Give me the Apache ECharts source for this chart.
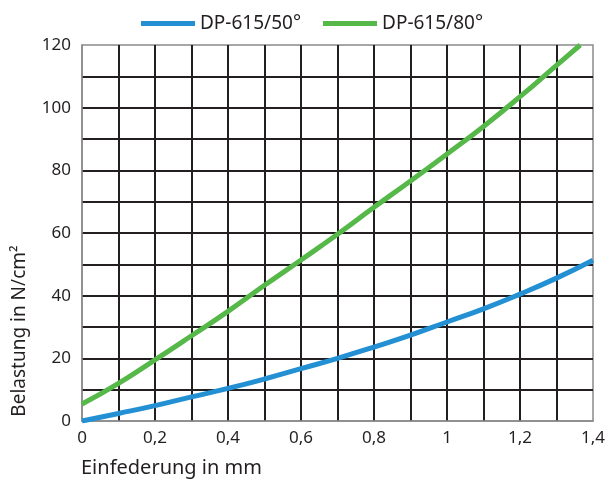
<!DOCTYPE html>
<html>
<head>
<meta charset="utf-8">
<script src="https://cdn.jsdelivr.net/npm/echarts@6/dist/echarts.min.js"></script>
<style>
  html, body { margin: 0; padding: 0; background: #fff; }
  #main { width: 609px; height: 487px; }
</style>
</head>
<body>
<div id="main"></div>
<script>
// values
const xBlue = [0, 0.1, 0.2, 0.3, 0.4, 0.5, 0.6, 0.7, 0.8, 0.9, 1.0, 1.1, 1.2, 1.3, 1.4];
const yBlue = [0, 2.4, 4.9, 7.7, 10.4, 13.4, 16.7, 20, 23.6, 27.4, 31.6, 35.8, 40.5, 45.6, 51.3];
const xGreen = [0, 0.1, 0.2, 0.3, 0.4, 0.5, 0.6, 0.7, 0.8, 0.9, 1.0, 1.1, 1.2, 1.3, 1.365];
const yGreen = [5.4, 12, 19.5, 27.2, 35, 43.3, 51.4, 59.6, 68.2, 76.6, 85.2, 94, 103.5, 113.5, 120];
const xLabels = ['0', '0,2', '0,4', '0,6', '0,8', '1', '1,2', '1,4'];
const yLabels = ['0', '20', '40', '60', '80', '100', '120'];
const seriesNames = ['DP-615/50°', 'DP-615/80°'];

const pairs = (xs, ys) => xs.map((x, i) => [x, ys[i]]);
const FONT = '"Noto Sans", sans-serif';
const TXT = '#231f20';

const chart = echarts.init(document.getElementById('main'));
const option = {
    animation: false,
    textStyle: { fontFamily: FONT },
    legend: {
        left: 136,
        top: 9,
        itemWidth: 54,
        itemHeight: 5,
        itemGap: 22,
        icon: 'rect',
        textStyle: { fontSize: 19, color: TXT, fontFamily: FONT },
        data: seriesNames
    },
    grid: {
        left: 82,
        right: 16,
        top: 45,
        bottom: 66,
        show: true,
        borderColor: '#8a8a8a',
        borderWidth: 1.5
    },
    xAxis: {
        type: 'value',
        min: 0,
        max: 1.4,
        interval: 0.1,
        axisLine: { show: true, lineStyle: { color: '#8a8a8a', width: 1.5 } },
        axisTick: { show: false },
        axisLabel: {
            margin: 9,
            fontSize: 17,
            color: TXT,
            formatter: v => {
                const i = Math.round(v * 10);
                return i % 2 === 0 ? xLabels[i / 2] : '';
            }
        },
        splitLine: {
            show: true,
            showMinLine: false,
            showMaxLine: false,
            lineStyle: { color: TXT, width: 2 }
        }
    },
    yAxis: {
        type: 'value',
        min: 0,
        max: 120,
        interval: 10,
        axisLine: { show: true, lineStyle: { color: '#8a8a8a', width: 1.5 } },
        axisTick: { show: false },
        axisLabel: {
            margin: 11,
            fontSize: 17,
            color: TXT,
            formatter: v => {
                const i = Math.round(v / 10);
                return i % 2 === 0 ? yLabels[i / 2] : '';
            }
        },
        splitLine: {
            show: true,
            showMinLine: false,
            showMaxLine: false,
            lineStyle: { color: TXT, width: 2 }
        }
    },
    graphic: [
        {
            type: 'text',
            x: 20,
            y: 331,
            rotation: Math.PI / 2,
            style: {
                text: 'Belastung in N/cm²',
                fontSize: 19,
                fontFamily: FONT,
                fill: TXT,
                align: 'center',
                verticalAlign: 'middle'
            }
        },
        {
            type: 'text',
            x: 81,
            y: 468,
            style: {
                text: 'Einfederung in mm',
                fontSize: 20,
                fontFamily: FONT,
                fill: TXT,
                align: 'left',
                verticalAlign: 'middle'
            }
        }
    ],
    series: [
        {
            name: seriesNames[0],
            type: 'line',
            smooth: true,
            showSymbol: false,
            data: pairs(xBlue, yBlue),
            itemStyle: { color: '#2390d3' },
            lineStyle: { color: '#2390d3', width: 5 }
        },
        {
            name: seriesNames[1],
            type: 'line',
            smooth: true,
            showSymbol: false,
            data: pairs(xGreen, yGreen),
            itemStyle: { color: '#55b848' },
            lineStyle: { color: '#55b848', width: 5 }
        }
    ]
};
chart.setOption(option);
</script>
</body>
</html>
